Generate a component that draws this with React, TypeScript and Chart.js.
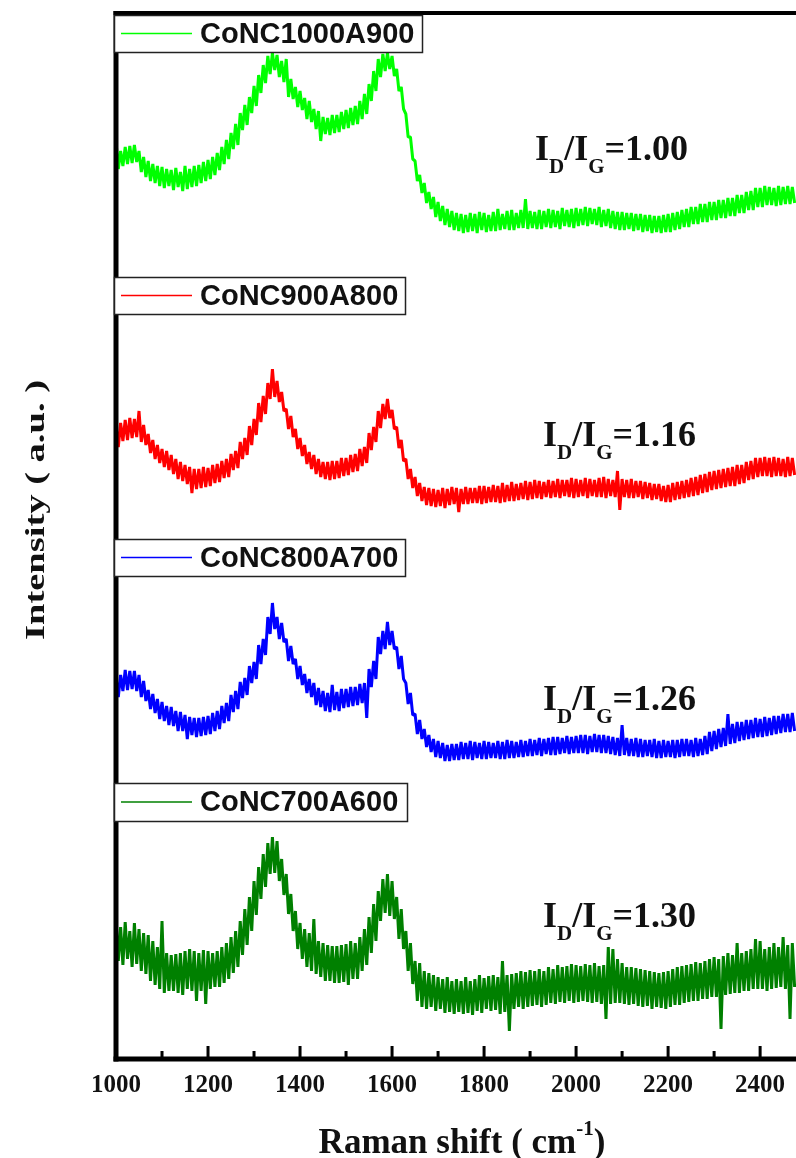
import React, { useEffect, useRef } from "react";
import { Chart, registerables } from "chart.js";

Chart.register(...registerables);

// Raman shift sampling grid (cm^-1): first point and spacing of the recorded spectra
const SHIFT_START = 1000;
const SHIFT_STEP = 5;
const X_MIN = 1000;
const X_MAX = 2478;

const X_TICK_LABELS = [1000, 1200, 1400, 1600, 1800, 2000, 2200, 2400];
const X_MINOR_TICKS = [1100, 1300, 1500, 1700, 1900, 2100, 2300];

const SERIES_NAMES = ["CoNC1000A900", "CoNC900A800", "CoNC800A700", "CoNC700A600"];
const SERIES_COLORS = ["#00ff00", "#ff0000", "#0000ff", "#008000"];
const RATIO_LABELS = ["1.00", "1.16", "1.26", "1.30"];

// Intensity (a.u., stacked with offsets), one value every 5 cm^-1 from 1000 cm^-1
const CONC1000A900 = [
  918, 890, 908, 893, 912, 895, 913, 896, 914, 897, 908, 887, 902, 882, 898, 878,
  895, 876, 893, 873, 892, 871, 890, 873, 889, 869, 891, 872, 887, 868, 893, 870,
  890, 872, 893, 873, 894, 876, 897, 878, 899, 880, 902, 884, 906, 889, 912, 895,
  919, 900, 926, 910, 935, 914, 946, 929, 954, 934, 962, 946, 973, 953, 984, 966,
  994, 976, 1003, 985, 1006, 989, 1004, 982, 998, 977, 1000, 962, 980, 960, 972, 952,
  968, 949, 961, 940, 958, 937, 950, 930, 948, 918, 942, 925, 941, 924, 944, 926,
  944, 927, 947, 930, 949, 931, 951, 934, 953, 935, 958, 940, 965, 945, 975, 958,
  988, 968, 1000, 982, 1005, 988, 1006, 990, 1003, 983, 990, 968, 972, 950, 945, 922,
  922, 900, 898, 878, 884, 866, 876, 856, 867, 850, 862, 842, 857, 838, 853, 834,
  850, 832, 848, 829, 846, 828, 845, 826, 844, 827, 846, 828, 845, 826, 847, 829,
  846, 827, 844, 828, 847, 828, 850, 829, 845, 830, 848, 829, 849, 829, 846, 831,
  849, 831, 860, 830, 848, 831, 847, 830, 849, 830, 848, 832, 850, 831, 849, 832,
  848, 830, 851, 833, 849, 832, 850, 831, 851, 833, 850, 834, 852, 833, 851, 835,
  850, 834, 852, 832, 849, 833, 850, 831, 848, 830, 847, 829, 847, 829, 846, 830,
  846, 828, 845, 829, 845, 827, 844, 828, 844, 826, 843, 827, 843, 826, 844, 827,
  845, 827, 846, 829, 847, 830, 849, 832, 850, 832, 852, 835, 852, 835, 855, 837,
  855, 837, 857, 839, 857, 839, 859, 841, 859, 841, 861, 843, 861, 843, 864, 846,
  864, 846, 867, 849, 868, 849, 871, 852, 871, 852, 873, 854, 872, 854, 871, 853,
  873, 854, 872, 855, 873, 855, 872, 856,
];

const CONC900A800 = [
  633, 612, 636, 618, 639, 619, 641, 621, 640, 622, 648, 617, 634, 614, 625, 606,
  619, 600, 614, 596, 610, 592, 608, 589, 604, 585, 600, 580, 597, 578, 594, 575,
  592, 566, 590, 570, 590, 571, 592, 572, 591, 573, 594, 576, 595, 577, 598, 581,
  600, 582, 605, 589, 608, 591, 617, 600, 621, 604, 633, 614, 640, 624, 656, 637,
  663, 645, 676, 660, 690, 662, 678, 657, 667, 648, 650, 630, 643, 622, 630, 610,
  621, 603, 614, 595, 607, 590, 604, 585, 600, 582, 597, 580, 597, 579, 598, 580,
  598, 581, 601, 583, 601, 584, 604, 587, 605, 588, 610, 593, 612, 596, 626, 609,
  632, 617, 648, 631, 655, 640, 660, 641, 649, 630, 632, 611, 619, 598, 600, 580,
  590, 571, 582, 563, 576, 558, 572, 554, 571, 553, 570, 552, 569, 553, 571, 551,
  570, 554, 572, 555, 571, 547, 570, 555, 572, 555, 571, 556, 571, 556, 573, 555,
  573, 556, 572, 557, 574, 557, 573, 556, 576, 557, 574, 558, 577, 558, 575, 559,
  576, 560, 578, 559, 577, 560, 579, 561, 578, 560, 577, 562, 579, 561, 578, 562,
  580, 561, 579, 563, 579, 562, 581, 561, 580, 562, 579, 563, 581, 561, 580, 563,
  579, 562, 581, 562, 582, 561, 580, 563, 579, 562, 588, 549, 580, 562, 579, 561,
  580, 561, 578, 562, 578, 560, 577, 561, 576, 559, 575, 560, 575, 558, 573, 557,
  574, 557, 576, 559, 577, 560, 578, 561, 579, 562, 581, 563, 582, 564, 584, 566,
  585, 567, 587, 569, 588, 570, 589, 571, 590, 572, 591, 573, 592, 573, 594, 575,
  594, 576, 597, 579, 598, 580, 601, 582, 601, 583, 602, 583, 601, 582, 602, 583,
  601, 583, 600, 582, 602, 583, 601, 584,
];

const CONC800A700 = [
  382, 362, 384, 368, 389, 369, 388, 370, 388, 368, 384, 362, 378, 358, 369, 350,
  365, 346, 360, 340, 357, 338, 353, 334, 352, 333, 348, 328, 347, 328, 344, 320,
  342, 324, 341, 322, 341, 323, 342, 324, 343, 325, 346, 328, 348, 330, 353, 336,
  356, 338, 364, 347, 368, 350, 377, 361, 381, 364, 393, 376, 397, 380, 414, 395,
  420, 404, 442, 425, 456, 430, 442, 420, 436, 417, 420, 398, 413, 395, 400, 380,
  393, 374, 385, 366, 380, 362, 376, 354, 371, 352, 368, 348, 366, 347, 374, 349,
  367, 348, 370, 351, 370, 352, 372, 353, 372, 354, 375, 356, 376, 341, 390, 372,
  398, 380, 422, 405, 428, 410, 437, 414, 428, 410, 412, 390, 403, 380, 376, 355,
  366, 344, 345, 325, 339, 320, 330, 312, 324, 307, 320, 302, 318, 301, 316, 298,
  314, 298, 315, 299, 315, 299, 317, 300, 316, 300, 318, 299, 317, 301, 316, 300,
  318, 300, 317, 301, 316, 301, 318, 300, 317, 300, 319, 301, 318, 301, 317, 302,
  319, 302, 318, 303, 320, 303, 319, 304, 321, 303, 320, 305, 321, 304, 322, 304,
  322, 305, 321, 306, 323, 305, 322, 306, 323, 306, 324, 306, 324, 305, 323, 307,
  325, 307, 324, 306, 324, 306, 323, 305, 322, 304, 321, 303, 334, 304, 321, 303,
  320, 303, 321, 302, 320, 302, 319, 303, 319, 302, 320, 301, 318, 301, 319, 302,
  318, 302, 319, 301, 319, 302, 320, 303, 320, 303, 319, 302, 321, 303, 320, 304,
  323, 305, 327, 308, 328, 310, 330, 312, 331, 313, 345, 315, 335, 316, 337, 318,
  337, 319, 339, 320, 339, 321, 341, 322, 340, 322, 342, 323, 341, 324, 343, 325,
  343, 326, 345, 327, 345, 327, 346, 328,
];

const CONC700A600 = [
  140, 98, 132, 94, 137, 100, 128, 92, 136, 95, 130, 88, 126, 85, 124, 78,
  118, 74, 112, 70, 138, 66, 106, 68, 104, 68, 105, 66, 106, 64, 108, 70,
  110, 68, 108, 58, 106, 68, 109, 55, 108, 70, 106, 72, 108, 72, 112, 76,
  116, 80, 122, 86, 128, 92, 138, 104, 150, 114, 162, 128, 178, 144, 192, 160,
  205, 172, 216, 185, 222, 186, 218, 178, 200, 164, 185, 145, 165, 128, 148, 110,
  136, 100, 130, 92, 126, 88, 140, 85, 118, 82, 116, 78, 114, 78, 113, 76,
  113, 76, 114, 77, 115, 74, 118, 80, 116, 80, 122, 88, 130, 94, 142, 106,
  155, 118, 168, 138, 180, 146, 185, 143, 178, 140, 162, 120, 150, 110, 128, 88,
  116, 75, 98, 58, 96, 52, 88, 50, 86, 52, 84, 48, 82, 50, 80, 46,
  82, 47, 78, 45, 80, 47, 78, 45, 82, 46, 78, 44, 80, 48, 84, 46,
  81, 50, 83, 48, 84, 49, 82, 45, 98, 47, 84, 28, 85, 50, 86, 52,
  88, 50, 87, 52, 89, 53, 88, 54, 90, 52, 88, 54, 92, 56, 90, 55,
  94, 57, 92, 56, 93, 58, 95, 56, 94, 57, 93, 58, 95, 57, 94, 56,
  96, 57, 93, 55, 94, 40, 112, 55, 110, 56, 100, 56, 96, 55, 92, 54,
  92, 55, 91, 53, 90, 52, 89, 53, 88, 50, 87, 52, 86, 51, 87, 50,
  88, 52, 90, 54, 92, 54, 93, 56, 94, 57, 95, 58, 97, 58, 96, 60,
  98, 60, 100, 62, 102, 62, 100, 30, 103, 64, 106, 65, 104, 66, 116, 66,
  106, 68, 108, 68, 110, 70, 120, 70, 118, 70, 110, 68, 112, 70, 116, 71,
  112, 72, 122, 70, 114, 40, 116, 72,
];

const SERIES_VALUES = [CONC1000A900, CONC900A800, CONC800A700, CONC700A600];

// Annotation placement (canvas pixels)
const LEGEND_BOXES = [
  { x: 114, y: 15, w: 308, h: 37 },
  { x: 114, y: 277, w: 291, h: 37 },
  { x: 114, y: 539, w: 291, h: 37 },
  { x: 114, y: 783, w: 293, h: 38 },
];
const RATIO_POS = [
  { x: 535, y: 160 },
  { x: 543, y: 446 },
  { x: 543, y: 710 },
  { x: 543, y: 927 },
];

const SERIF = '"Liberation Serif", "Times New Roman", serif';
const SANS = '"Liberation Sans", Arial, sans-serif';

function drawRatio(ctx: CanvasRenderingContext2D, x: number, y: number, value: string) {
  const parts: [string, boolean][] = [
    ["I", false],
    ["D", true],
    ["/", false],
    ["I", false],
    ["G", true],
    ["=" + value, false],
  ];
  let cx = x;
  ctx.textAlign = "left";
  ctx.textBaseline = "alphabetic";
  ctx.fillStyle = "#111";
  for (const [t, sub] of parts) {
    ctx.font = sub ? `bold 21px ${SERIF}` : `bold 36px ${SERIF}`;
    ctx.fillText(t, cx, sub ? y + 13 : y);
    cx += ctx.measureText(t).width;
  }
}

const overlay = {
  id: "overlay",
  afterDatasetsDraw(chart: any) {
    const { ctx, chartArea: a, scales } = chart;
    const xs = scales.x;
    ctx.save();
    ctx.fillStyle = "#000";
    // frame: top, left, bottom
    ctx.fillRect(a.left - 2.5, a.top - 2, a.right - a.left + 3, 4);
    ctx.fillRect(a.left - 2.5, a.top - 2, 5, a.bottom - a.top + 4.5);
    ctx.fillRect(a.left - 2.5, a.bottom - 2.5, a.right - a.left + 3, 5);
    // inward ticks
    for (const v of X_TICK_LABELS) {
      const px = xs.getPixelForValue(v);
      ctx.fillRect(px - 1.5, a.bottom - 13, 3, 12);
    }
    for (const v of X_MINOR_TICKS) {
      const px = xs.getPixelForValue(v);
      ctx.fillRect(px - 1.5, a.bottom - 8, 3, 7);
    }
    // tick labels
    ctx.font = `bold 25px ${SERIF}`;
    ctx.textAlign = "center";
    ctx.textBaseline = "alphabetic";
    ctx.fillStyle = "#111";
    for (const v of X_TICK_LABELS) {
      ctx.fillText(String(v), xs.getPixelForValue(v), a.bottom + 33);
    }
    // x title with superscript
    const t1 = "Raman shift ( cm";
    const sup = "-1";
    const t2 = ")";
    ctx.font = `bold 35px ${SERIF}`;
    const w1 = ctx.measureText(t1).width;
    const w3 = ctx.measureText(t2).width;
    ctx.font = `bold 21px ${SERIF}`;
    const w2 = ctx.measureText(sup).width;
    const total = w1 + w2 + w3;
    let sx = 462 - total / 2;
    const base = 1153;
    ctx.textAlign = "left";
    ctx.font = `bold 35px ${SERIF}`;
    ctx.fillText(t1, sx, base);
    sx += w1;
    ctx.font = `bold 21px ${SERIF}`;
    ctx.fillText(sup, sx, base - 18);
    sx += w2;
    ctx.font = `bold 35px ${SERIF}`;
    ctx.fillText(t2, sx, base);
    // y title (rotated, stretched to its length in the reference)
    ctx.save();
    ctx.translate(44, 510);
    ctx.rotate(-Math.PI / 2);
    ctx.font = `bold 28px ${SERIF}`;
    const yt = "Intensity ( a.u. )";
    const yw = ctx.measureText(yt).width;
    ctx.scale(260 / yw, 1);
    ctx.textAlign = "center";
    ctx.fillText(yt, 0, 0);
    ctx.restore();
    // legend boxes
    LEGEND_BOXES.forEach((b, i) => {
      ctx.fillStyle = "#fff";
      ctx.fillRect(b.x, b.y, b.w, b.h);
      ctx.strokeStyle = "#222";
      ctx.lineWidth = 1.5;
      ctx.strokeRect(b.x + 0.5, b.y + 0.5, b.w, b.h);
      const cy = b.y + b.h / 2;
      ctx.strokeStyle = SERIES_COLORS[i];
      ctx.lineWidth = 1.5;
      ctx.beginPath();
      ctx.moveTo(b.x + 7, cy);
      ctx.lineTo(b.x + 78, cy);
      ctx.stroke();
      ctx.fillStyle = "#111";
      ctx.font = `bold 29px ${SANS}`;
      ctx.textAlign = "left";
      ctx.textBaseline = "middle";
      ctx.fillText(SERIES_NAMES[i], b.x + 86, cy + 1);
    });
    // ratio annotations
    RATIO_POS.forEach((p, i) => drawRatio(ctx, p.x, p.y, RATIO_LABELS[i]));
    ctx.restore();
  },
};

export default function App() {
  const ref = useRef<HTMLCanvasElement | null>(null);
  useEffect(() => {
    document.body.style.margin = "0";
    const canvas = ref.current;
    if (!canvas) return;
    const chart = new Chart(canvas, {
      type: "line",
      data: {
        datasets: SERIES_VALUES.map((vals, i) => ({
          label: SERIES_NAMES[i],
          data: vals.map((v, j) => ({ x: SHIFT_START + j * SHIFT_STEP, y: v })),
          borderColor: SERIES_COLORS[i],
          backgroundColor: SERIES_COLORS[i],
          borderWidth: 3,
          borderJoinStyle: "bevel",
          pointRadius: 0,
          tension: 0,
          fill: false,
        })),
      },
      options: {
        animation: false,
        responsive: false,
        devicePixelRatio: 1,
        layout: { padding: { left: 116, right: 0, top: 13, bottom: 99 } },
        plugins: { legend: { display: false }, tooltip: { enabled: false } },
        scales: {
          x: { type: "linear", min: X_MIN, max: X_MAX, display: false },
          y: { type: "linear", min: 0, max: 1046, display: false },
        },
      },
      plugins: [overlay],
    } as any);
    return () => chart.destroy();
  }, []);
  return (
    <canvas
      ref={ref}
      width={796}
      height={1158}
      style={{ display: "block", width: 796, height: 1158 }}
    />
  );
}
